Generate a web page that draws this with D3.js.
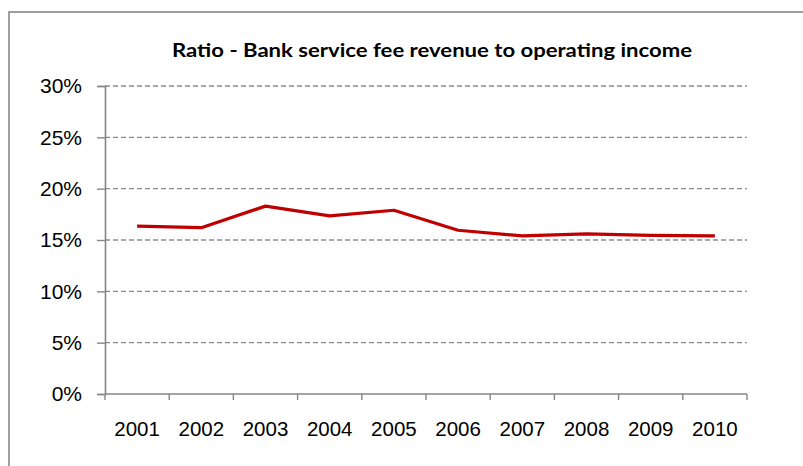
<!DOCTYPE html>
<html>
<head>
<meta charset="utf-8">
<script src="https://cdn.jsdelivr.net/npm/d3@7"></script>
<style>
  html, body { margin: 0; padding: 0; background: #fff; }
  svg { display: block; }
</style>
</head>
<body>
<svg id="chart" width="803" height="466"></svg>
<script>
// Bank service fee revenue as a share of operating income, by year
const years = ["2001", "2002", "2003", "2004", "2005", "2006", "2007", "2008", "2009", "2010"];
const feeRatio = [16.35, 16.2, 18.3, 17.35, 17.9, 15.95, 15.4, 15.6, 15.45, 15.4];
const yTicks = [0, 5, 10, 15, 20, 25, 30];
const chartTitle = "Ratio - Bank service fee revenue to operating income";

const svg = d3.select("#chart");
const labelFont = "Liberation Sans, Arial, sans-serif";

// Chart area frame
svg.append("rect")
  .attr("x", 9).attr("y", 12)
  .attr("width", 820).attr("height", 480)
  .attr("fill", "#fff")
  .attr("stroke", "#878787")
  .attr("stroke-width", 1.6);

const plot = { left: 105, right: 747, top: 86, bottom: 394 };

const x = d3.scaleBand().domain(years).range([plot.left, plot.right]);
const y = d3.scaleLinear().domain([0, 30]).range([plot.bottom, plot.top]);

// Title
svg.append("text")
  .attr("x", 172).attr("y", 57)
  .attr("textLength", 520)
  .attr("lengthAdjust", "spacingAndGlyphs")
  .attr("font-family", "Lato, 'Open Sans', sans-serif")
  .attr("font-weight", "bold")
  .attr("font-size", 19)
  .attr("fill", "#000")
  .text(chartTitle);

// Horizontal dashed gridlines
svg.append("g")
  .selectAll("line")
  .data(yTicks.filter(d => d > 0))
  .join("line")
  .attr("x1", plot.left).attr("x2", plot.right)
  .attr("y1", d => y(d)).attr("y2", d => y(d))
  .attr("stroke", "#8c8c8c")
  .attr("stroke-width", 1.4)
  .attr("stroke-dasharray", "5,3");

// Y axis
const yAxis = svg.append("g")
  .attr("transform", `translate(${plot.left},0)`)
  .call(d3.axisLeft(y).tickValues(yTicks).tickFormat(d => d + "%").tickSize(8).tickPadding(15));
yAxis.select(".domain").attr("stroke", "#868686").attr("stroke-width", 1.6);
yAxis.selectAll(".tick line").attr("stroke", "#868686").attr("stroke-width", 1.4);
yAxis.selectAll(".tick text")
  .attr("font-family", labelFont)
  .attr("font-size", 21)
  .attr("fill", "#000");

// X axis with ticks on category boundaries
const xAxisG = svg.append("g").attr("transform", `translate(0,${plot.bottom})`);
xAxisG.append("line")
  .attr("x1", plot.left).attr("x2", plot.right)
  .attr("stroke", "#868686").attr("stroke-width", 1.6);
const bounds = years.map(d => x(d)).concat([x(years[years.length - 1]) + x.bandwidth()]);
xAxisG.selectAll("line.tk")
  .data(bounds)
  .join("line")
  .attr("class", "tk")
  .attr("x1", d => d).attr("x2", d => d)
  .attr("y1", 0).attr("y2", 6)
  .attr("stroke", "#868686").attr("stroke-width", 1.4);
xAxisG.selectAll("text")
  .data(years)
  .join("text")
  .attr("x", d => x(d) + x.bandwidth() / 2)
  .attr("y", 42)
  .attr("text-anchor", "middle")
  .attr("font-family", labelFont)
  .attr("font-size", 20.5)
  .attr("fill", "#000")
  .text(d => d);

// Ratio line
const line = d3.line()
  .x((d, i) => x(years[i]) + x.bandwidth() / 2)
  .y(d => y(d));
svg.append("path")
  .datum(feeRatio)
  .attr("d", line)
  .attr("fill", "none")
  .attr("stroke", "#C00000")
  .attr("stroke-width", 3.2)
  .attr("stroke-linejoin", "round");
</script>
</body>
</html>
